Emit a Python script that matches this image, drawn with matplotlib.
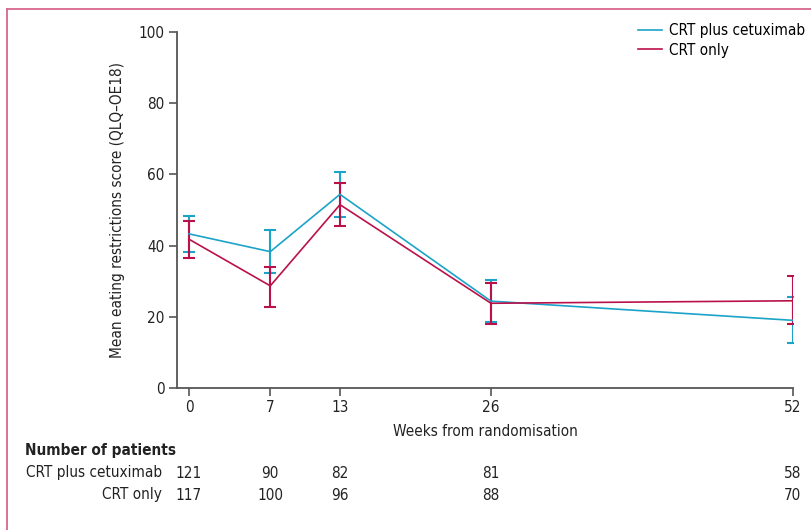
import numpy as np
import matplotlib
matplotlib.use('Agg')
import matplotlib.pyplot as plt
from matplotlib.lines import Line2D
from matplotlib import font_manager

plt.rcParams['font.family'] = ['DejaVu Sans']
plt.rcParams['font.stretch'] = 'condensed'
plt.rcParams['font.size'] = 10.5
print(font_manager.findfont(font_manager.FontProperties(family='DejaVu Sans', stretch='condensed')))
print(sorted({f.name for f in font_manager.fontManager.ttflist}))

# --- data ---
weeks = [0, 7, 13, 26, 52]
cetux_mean = [43.3, 38.3, 54.4, 24.4, 19.0]
cetux_lo = [38.2, 32.2, 48.0, 18.6, 12.6]
cetux_hi = [48.4, 44.4, 60.8, 30.2, 25.6]
crt_mean = [41.8, 28.7, 51.5, 23.8, 24.5]
crt_lo = [36.6, 22.8, 45.5, 18.0, 17.9]
crt_hi = [47.0, 34.1, 57.7, 29.6, 31.4]
n_cetux = [121, 90, 82, 81, 58]
n_crt = [117, 100, 96, 88, 70]
series_names = ['CRT plus cetuximab', 'CRT only']

c_cetux = '#1ba3c8'
c_crt = '#bb1149'
c_axis = '#555555'

fig = plt.figure(figsize=(8.11, 5.30), dpi=100)
ax = fig.add_axes([177 / 811, 1 - 388 / 530, (793 - 177) / 811, (388 - 32) / 530])

def err(mean, lo, hi):
    m = np.array(mean)
    return [m - np.array(lo), np.array(hi) - m]

ax.errorbar(weeks, cetux_mean, yerr=err(cetux_mean, cetux_lo, cetux_hi), color=c_cetux,
            lw=1.2, elinewidth=1.5, capsize=4, capthick=1.5, label=series_names[0])
ax.errorbar(weeks, crt_mean, yerr=err(crt_mean, crt_lo, crt_hi), color=c_crt,
            lw=1.2, elinewidth=1.5, capsize=4, capthick=1.5, label=series_names[1])

ax.set_xlim(-1.03, 52)
ax.set_ylim(0, 100)
ax.set_xticks(weeks)
ax.set_yticks([0, 20, 40, 60, 80, 100])
for s in ['top', 'right']:
    ax.spines[s].set_visible(False)
for s in ['left', 'bottom']:
    ax.spines[s].set_color(c_axis)
    ax.spines[s].set_linewidth(1.3)
ax.tick_params(axis='both', direction='out', length=6, width=1.2, color=c_axis,
               labelsize=11, labelcolor='#222222', pad=3)
ax.set_xlabel('Weeks from randomisation', fontsize=11, color='#222222', labelpad=6)
ax.set_ylabel('Mean eating restrictions score (QLQ–OE18)', fontsize=11, color='#222222', labelpad=10)

handles = [Line2D([], [], color=c_cetux, lw=1.2), Line2D([], [], color=c_crt, lw=1.2)]
fig.legend(handles, series_names, loc='upper left', bbox_to_anchor=(638 / 811, 1 - 23 / 530),
           frameon=False, fontsize=11, handlelength=1.6, handletextpad=0.4, labelspacing=0.3,
           borderpad=0, borderaxespad=0)

# number of patients table
fig.text(25 / 811, 1 - 451 / 530, 'Number of patients', fontsize=11, fontweight='bold',
         va='center', ha='left', color='#222222')
for row_y, name, counts in [(473, series_names[0], n_cetux), (495, series_names[1], n_crt)]:
    yf = 1 - row_y / 530
    fig.text(162 / 811, yf, name, fontsize=11, ha='right', va='center', color='#222222')
    for w, n in zip(weeks, counts):
        xd = ax.transData.transform((w, 0))[0]
        xf = fig.transFigure.inverted().transform((xd, 0))[0]
        fig.text(xf, yf, str(n), fontsize=11, ha='center', va='center', color='#222222')

# pink frame on left and top
c_frame = '#d7678c'
fig.add_artist(Line2D([6.5 / 811, 6.5 / 811], [0, 1 - 8.5 / 530], color=c_frame, lw=1.3,
                      transform=fig.transFigure))
fig.add_artist(Line2D([6.5 / 811, 1], [1 - 8.5 / 530, 1 - 8.5 / 530], color=c_frame, lw=1.3,
                      transform=fig.transFigure))

fig.savefig('out.png', dpi=100)
